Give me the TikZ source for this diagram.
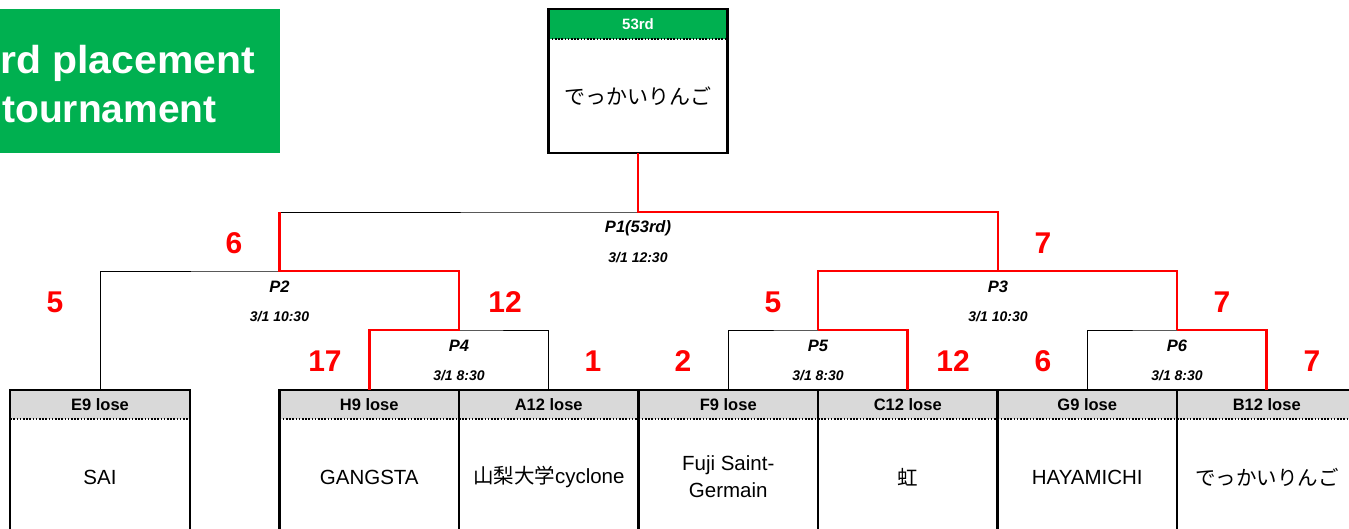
\documentclass[tikz,border=0pt]{standalone}
\usepackage{fontspec}
\setmainfont{Liberation Sans}
\newfontfamily\jp{Noto Sans CJK JP}
\usepackage{xcolor}
\usetikzlibrary{positioning}
\definecolor{xlgreen}{HTML}{00B050}
\definecolor{hdrgray}{HTML}{D9D9D9}

\begin{document}
\begin{tikzpicture}[x=1pt,y=-1pt,
    thinline/.style={line width=0.9pt},
    winline/.style={red,line width=2.8pt},
    boxline/.style={line width=2.3pt},
    dotline/.style={line width=1.6pt,dash pattern=on 1.6pt off 1.6pt},
    hdr/.style={fill=hdrgray,minimum width=179.5pt,minimum height=29pt,inner sep=0pt,outer sep=0pt,anchor=north,font=\bfseries\fontsize{16.5}{16.5}\selectfont},
    body/.style={minimum width=179.5pt,minimum height=116pt,inner sep=0pt,outer sep=0pt,anchor=north,align=center,font=\fontsize{20.5}{27}\selectfont},
    ttl/.style={text=white,anchor=base west,inner sep=0pt,font=\bfseries\fontsize{39}{39}\selectfont},
    mname/.style={font=\bfseries\itshape\fontsize{16.5}{16.5}\selectfont},
    mtime/.style={font=\bfseries\itshape\fontsize{14}{14}\selectfont},
    score/.style={text=red,font=\bfseries\fontsize{30}{30}\selectfont}]
    \useasboundingbox (0,0) rectangle (1349,528);
    \clip (0,0) rectangle (1349,528);

    % title %
    \fill[xlgreen] (0,9) rectangle (280,153);
    \node[ttl,xscale=1.05] (ttlA) at (0,73) {rd placement};
    \node[ttl] (ttlB) at (2,122) {tournament};

    % winner box %
    \node[hdr,fill=xlgreen,text=white,minimum width=179pt,minimum height=30pt,font=\bfseries\fontsize{15}{15}\selectfont] (W) at (638,9) {53rd};
    \node[body,minimum width=179pt,minimum height=114pt,below=0pt of W,font=\jp\fontsize{21}{21}\selectfont] (bW) {でっかいりんご};
    \draw[boxline] (W.north west) rectangle (bW.south east);
    \draw[dotline] (W.south west) -- (W.south east);

    % teams %
    \node[hdr] (E9) at (100,390) {E9 lose};
    \node[hdr] (H9) at (369.25,390) {H9 lose};
    \node[hdr,right=0pt of H9] (A12) {A12 lose};
    \node[hdr,right=0pt of A12] (F9) {F9 lose};
    \node[hdr,right=0pt of F9] (C12) {C12 lose};
    \node[hdr,right=0pt of C12] (G9) {G9 lose};
    \node[hdr,right=0pt of G9] (B12) {B12 lose};

    \node[body,below=0pt of E9] (bE9) {SAI};
    \node[body,below=0pt of H9] (bH9) {GANGSTA};
    \node[body,below=0pt of A12] (bA12) {{\jp 山梨大学}cyclone};
    \node[body,below=0pt of F9] (bF9) {Fuji Saint-\\Germain};
    \node[body,below=0pt of C12,font=\jp\fontsize{20.5}{27}\selectfont] (bC12) {虹};
    \node[body,below=0pt of G9] (bG9) {HAYAMICHI};
    \node[body,below=0pt of B12,font=\jp\fontsize{20.5}{27}\selectfont] (bB12) {でっかいりんご};

    \foreach \nm in {E9,H9,A12,F9,C12,G9,B12}{
        \draw[boxline] (\nm.north west) rectangle (b\nm.south east);
        \draw[dotline] (\nm.south west) -- (\nm.south east);
    }

    % match points %
    \coordinate (p1) at (638,212);
    \coordinate (p2) at (279.5,271);
    \coordinate (p3) at (998,271);
    \coordinate (p4) at (459,330);
    \coordinate (p5) at (818,330);
    \coordinate (p6) at (1177,330);

    % brackets %
    \draw[thinline] (p2) |- (p1) -| (p3);
    \draw[thinline] (E9.north) |- (p2) -| (p4);
    \draw[thinline] (p5) |- (p3) -| (p6);
    \draw[thinline] (H9.north) |- (p4) -| (A12.north);
    \draw[thinline] (F9.north) |- (p5) -| (C12.north);
    \draw[thinline] (G9.north) |- (p6) -| (B12.north);

    % winning paths %
    \draw[winline] (bW.south) -- (p1) -| (p3);
    \draw[winline] (p5) |- (p3) -| (p6);
    \draw[winline] (C12.north) |- (p5);
    \draw[winline] (B12.north) |- (p6);
    \draw[winline] (H9.north) |- (p4) |- (p2) -- (p2 |- p1);

    % match labels %
    \node[mname] (n1) at ([yshift=-16pt]p1) {P1(53rd)};
    \node[mtime] (t1) at ([yshift=-46pt]p1) {3/1 12:30};
    \node[mname] (n2) at ([yshift=-16pt]p2) {P2};
    \node[mtime] (t2) at ([yshift=-46pt]p2) {3/1 10:30};
    \node[mname] (n3) at ([yshift=-16pt]p3) {P3};
    \node[mtime] (t3) at ([yshift=-46pt]p3) {3/1 10:30};
    \node[mname] (n4) at ([yshift=-16pt]p4) {P4};
    \node[mtime] (t4) at ([yshift=-46pt]p4) {3/1 8:30};
    \node[mname] (n5) at ([yshift=-16pt]p5) {P5};
    \node[mtime] (t5) at ([yshift=-46pt]p5) {3/1 8:30};
    \node[mname] (n6) at ([yshift=-16pt]p6) {P6};
    \node[mtime] (t6) at ([yshift=-46pt]p6) {3/1 8:30};

    % scores %
    \node[score] (s1a) at (234,243) {6};
    \node[score] (s1b) at (1043,243) {7};
    \node[score] (s2a) at (55,302) {5};
    \node[score] (s2b) at (505,302) {12};
    \node[score] (s3a) at (773,302) {5};
    \node[score] (s3b) at (1222,302) {7};
    \node[score] (s4a) at (325,361) {17};
    \node[score] (s4b) at (593,361) {1};
    \node[score] (s5a) at (683,361) {2};
    \node[score] (s5b) at (953,361) {12};
    \node[score] (s6a) at (1043,361) {6};
    \node[score] (s6b) at (1312,361) {7};
\end{tikzpicture}
\end{document}
